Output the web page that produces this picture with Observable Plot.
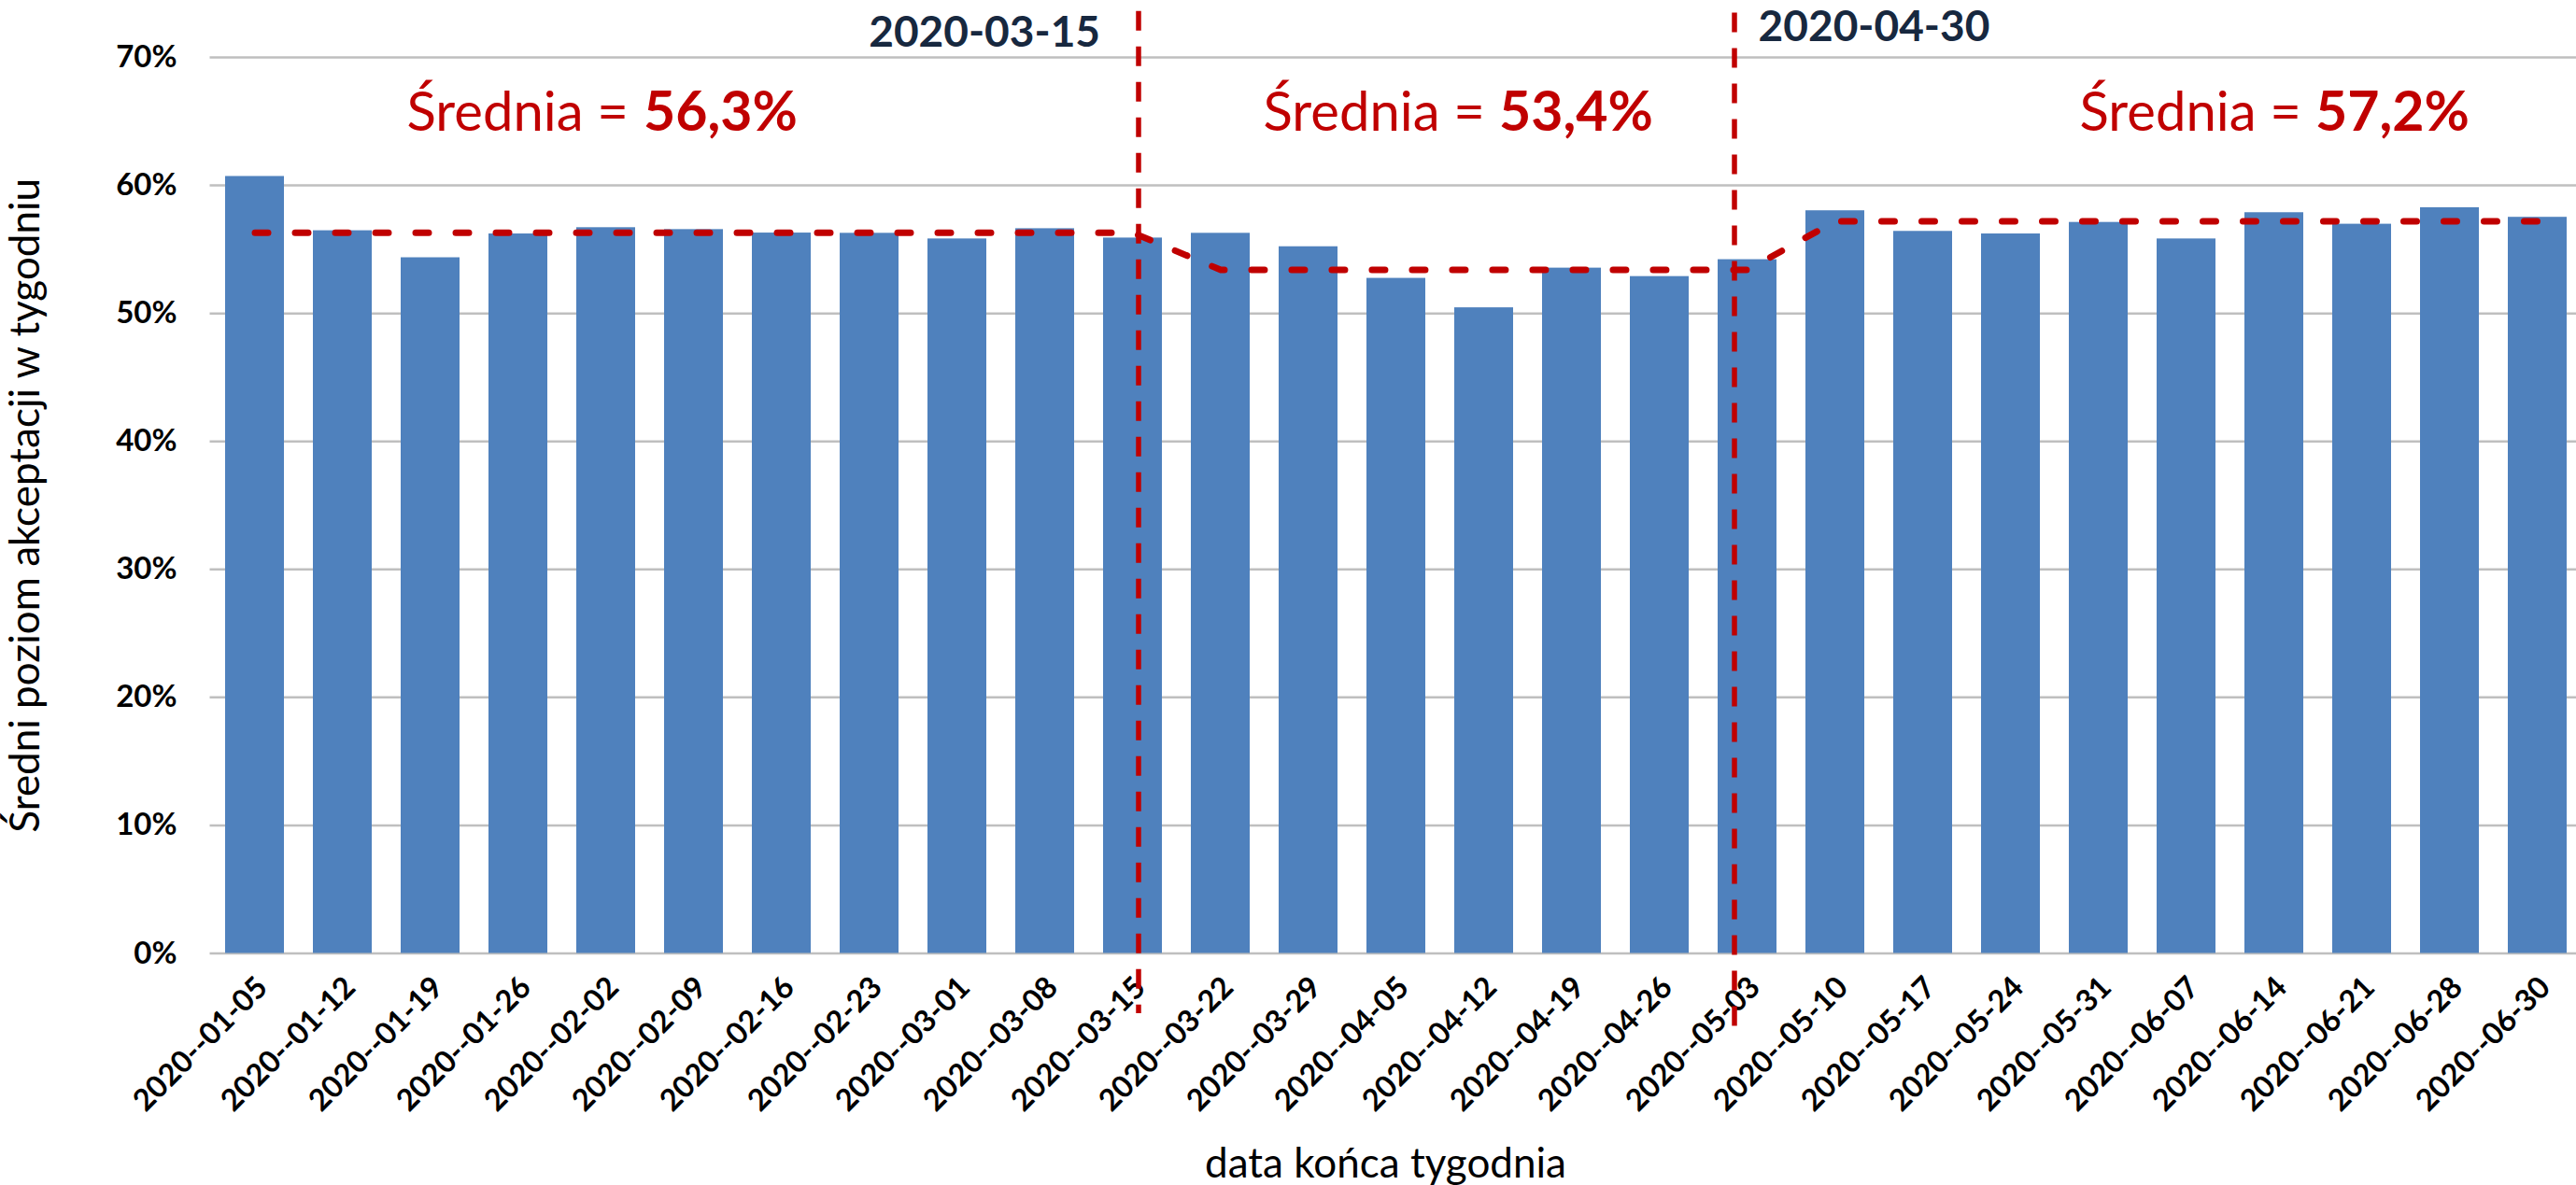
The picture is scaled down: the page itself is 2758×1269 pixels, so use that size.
<!DOCTYPE html>
<html><head><meta charset="utf-8">
<script src="https://cdn.jsdelivr.net/npm/d3@7"></script>
<script src="https://cdn.jsdelivr.net/npm/@observablehq/plot@0.6"></script>
<style>
html,body{margin:0;padding:0;background:#fff;overflow:hidden;}
</style></head><body><div id="chart"></div>
<script>
const dates = ["2020--01-05","2020--01-12","2020--01-19","2020--01-26","2020--02-02","2020--02-09","2020--02-16","2020--02-23","2020--03-01","2020--03-08","2020--03-15","2020--03-22","2020--03-29","2020--04-05","2020--04-12","2020--04-19","2020--04-26","2020--05-03","2020--05-10","2020--05-17","2020--05-24","2020--05-31","2020--06-07","2020--06-14","2020--06-21","2020--06-28","2020--06-30"];
const values = [0.607,0.5646,0.5435,0.5621,0.567,0.5655,0.5628,0.5626,0.5582,0.5662,0.5589,0.5626,0.5521,0.5274,0.5044,0.5354,0.5288,0.542,0.5802,0.5641,0.5621,0.5711,0.5582,0.5787,0.5697,0.5826,0.5751];
const period = [0,0,0,0,0,0,0,0,0,0,0,1,1,1,1,1,1,1,2,2,2,2,2,2,2,2,2];
const periodMeans = [0.563,0.534,0.572];
const meanWord = "Średnia =";
const meanValueLabels = ["56,3%","53,4%","57,2%"];
const meanLabelAnchor = ["2020--02-02","2020--04-12","2020--06-14"];
const markerLabels = ["2020-03-15","2020-04-30"];
const markerAnchor = ["2020--03-15","2020--05-03"];
const yTicks = [0,0.1,0.2,0.3,0.4,0.5,0.6,0.7];
const yTitle = "Średni poziom akceptacji w tygodniu";
const xTitle = "data końca tygodnia";

const RED = "#C00000", BLUE = "#4F81BD", NAVY = "#17283F", GRID = "#BFBFBF";
const FONT = "Lato, 'Open Sans', sans-serif";

const data = dates.map((d,i)=>({date:d, value:values[i], mean:periodMeans[period[i]]}));

// per-label horizontal offsets (px) of the "Średnia =" / value split
const meanDx = [[24,40],[1,16],[29,44]];
const meanMarks = [];
meanLabelAnchor.forEach((a,i)=>{
  meanMarks.push(Plot.text([{date:a, t:meanWord}], {x:"date", text:"t", frameAnchor:"top", lineAnchor:"bottom", dy:78, dx:meanDx[i][0], textAnchor:"end", fill:RED, fontSize:58, fontFamily:FONT}));
  meanMarks.push(Plot.text([{date:a, t:meanValueLabels[i]}], {x:"date", text:"t", frameAnchor:"top", lineAnchor:"bottom", dy:78, dx:meanDx[i][1], textAnchor:"start", fill:RED, fontSize:59, fontWeight:"bold", fontFamily:FONT}));
});

const plot = Plot.plot({
  width: 2758, height: 1269,
  marginTop: 61, marginBottom: 248.5, marginLeft: 224.5, marginRight: -6.5,
  style: {fontFamily: FONT, background: "#fff", color: "#000"},
  x: {type:"band", domain: dates, paddingInner: 0.33, paddingOuter: 0.165, axis: null},
  y: {domain: [0, 0.7], axis: null},
  marks: [
    Plot.gridY(yTicks, {stroke: GRID, strokeOpacity: 1, strokeWidth: 2.5}),
    Plot.barY(data, {x:"date", y:"value", fill: BLUE}),
    Plot.axisY({ticks: yTicks, tickFormat: d => `${Math.round(d*100)}%`, tickSize: 0, tickPadding: 35.5, fontSize: 33, fontWeight: "bold", label: null, fontFamily: FONT}),
    Plot.text(data, {x:"date", text:"date", frameAnchor:"bottom", rotate:-45, textAnchor:"end", lineAnchor:"middle", dx:8, dy:31, fontSize:32.5, fontWeight:"bold", fontFamily:FONT}),
    Plot.lineY(data, {x:"date", y:"mean", stroke: RED, strokeWidth: 7, strokeDasharray: "14,29", strokeLinecap: "round"}),
    Plot.ruleX([{date: markerAnchor[0]}], {x:"date", y1: 0.736, y2: -0.047, dx: 6, stroke: RED, strokeWidth: 5.5, strokeDasharray: "21,17"}),
    Plot.ruleX([{date: markerAnchor[1]}], {x:"date", y1: 0.7347, y2: -0.0573, dx: -14, stroke: RED, strokeWidth: 5.5, strokeDasharray: "21,17"}),
    Plot.text([{date: markerAnchor[0], t: markerLabels[0]}], {x:"date", text:"t", frameAnchor:"top", lineAnchor:"bottom", dy:-12, dx:-35, textAnchor:"end", fill:NAVY, fontSize:46, fontWeight:"bold", fontFamily:FONT}),
    Plot.text([{date: markerAnchor[1], t: markerLabels[1]}], {x:"date", text:"t", frameAnchor:"top", lineAnchor:"bottom", dy:-18, dx:11.6, textAnchor:"start", fill:NAVY, fontSize:46, fontWeight:"bold", fontFamily:FONT}),
    ...meanMarks,
    Plot.text([yTitle], {text: d => d, frameAnchor:"left", rotate:-90, textAnchor:"middle", lineAnchor:"middle", dx:-197, fontSize:44, fontFamily:FONT}),
    Plot.text([xTitle], {text: d => d, frameAnchor:"bottom", textAnchor:"middle", lineAnchor:"bottom", dy:239.5, dx:-11.5, fontSize:44, fontFamily:FONT})
  ]
});
document.getElementById("chart").appendChild(plot);
</script></body></html>
